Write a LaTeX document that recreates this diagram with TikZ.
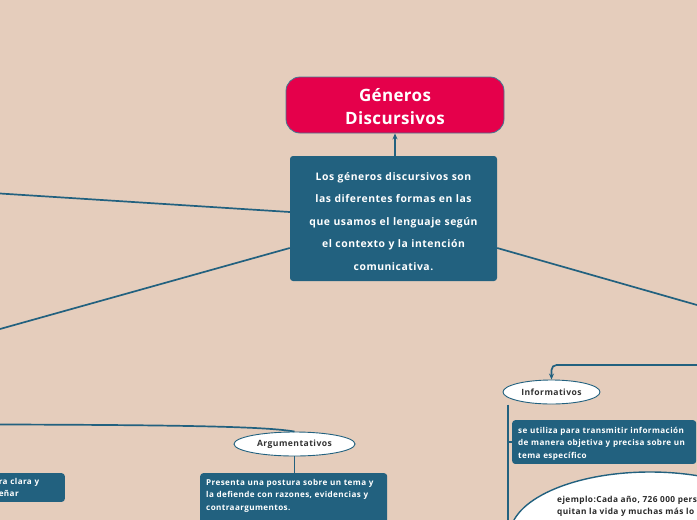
\documentclass[tikz,border=0pt]{standalone}
\usepackage{fontspec}
\setmainfont{Open Sans}
\newfontfamily\spacedfont[LetterSpace=5]{Open Sans}
\newfontfamily\titlefont[LetterSpace=2]{Open Sans}
\usetikzlibrary{arrows.meta,positioning,calc,shapes.geometric}

\definecolor{sand}{HTML}{E5CDBC}
\definecolor{deepblue}{HTML}{22617F}
\definecolor{crimson}{HTML}{E5004B}
\definecolor{inkgray}{HTML}{333333}

\newcommand{\lift}[1]{\rule{0pt}{#1}}

\begin{document}
\begin{tikzpicture}[x=1pt, y=-1pt,
  topic/.style={draw=deepblue!85, line width=0.8pt, fill=crimson, rounded corners=14pt, align=center, text=white, minimum width=218pt, minimum height=56pt, text height=39.5pt, text depth=0pt, font=\titlefont\fontsize{17}{23}\selectfont\bfseries},
  central/.style={fill=deepblue, rounded corners=3pt, align=center, text=white, text width=200pt, minimum width=207pt, minimum height=125pt, inner xsep=2pt, font=\spacedfont\fontsize{10.4}{22.5}\selectfont\bfseries},
  genre/.style={ellipse, draw=deepblue, line width=0.9pt, fill=white, text=inkgray, minimum height=24pt, inner sep=1pt, font=\spacedfont\fontsize{8.6}{10}\selectfont\bfseries},
  leaf/.style={fill=deepblue, rounded corners=3pt, align=left, text=white, inner xsep=6pt, inner ysep=5pt, font=\spacedfont\fontsize{8.1}{12.4}\selectfont\bfseries},
  bubble/.style={ellipse, draw=deepblue, line width=1.4pt, fill=white, minimum width=280pt, minimum height=126pt},
  bubbletext/.style={align=left, text=inkgray!80!black, inner sep=0pt, font=\spacedfont\fontsize{8.3}{12.6}\selectfont\bfseries},
  link/.style={draw=deepblue, line width=1.7pt},
  tip/.style={-{Stealth[length=6pt, width=5pt]}}
]
\useasboundingbox (0,0) rectangle (697,520);
\clip (0,0) rectangle (697,520);
\fill[sand] (0,0) rectangle (697,520);

% main nodes
\node[topic] (title) at (395,105) {Géneros\\Discursivos};
\node[central] (main) at (393.5,218.5) {\lift{14pt}Los géneros discursivos son\\las diferentes formas en las\\que usamos el lenguaje según\\el contexto y la intención\\comunicativa.};

% branch ends leaving the frame
\coordinate (farwest1) at (0,193.5);
\coordinate (farwest2) at (0,329);
\coordinate (fareast) at (697,305);
\coordinate (infohook) at (697,365);
\coordinate (arguhook) at (0,424.5);

\draw[link, line width=1.4pt, tip] (title.south |- main.north) -- (title.south);
\draw[link] ($(main.west)+(0,-6.5)$) -- (farwest1);
\draw[link] ($(main.west)+(0,29.5)$) -- (farwest2);
\draw[link] ($(main.east)+(0,29.5)$) -- (fareast);

% Argumentativos
\node[genre, minimum width=121pt] (argu) at (294.5,444) {Argumentativos};
\node[leaf, anchor=north west, text width=175pt, inner ysep=6pt] (arguleaf) at (200,473) {Presenta una postura sobre un tema y\\la defiende con razones, evidencias y\\contraargumentos.\rule[-24pt]{0pt}{0pt}};
\node[leaf, anchor=north east, text width=60pt] (leftleaf) at (65,473) {ra clara y\\eñar};
\draw[link] (arguhook) .. controls (200,425) and (268,427) .. (argu.north);
\draw[link] (argu.south) -- (arguleaf.north -| argu.south);

% Informativos
\node[genre, minimum width=97pt] (info) at (551.5,392) {Informativos};
\draw[link, tip, rounded corners=5pt] (infohook) -| (info.north);
\node[leaf, anchor=north west, text width=172pt, inner ysep=4pt] (infoleaf) at (512,420) {\lift{9pt}se utiliza para transmitir información\\de manera objetiva y precisa sobre un\\tema específico};
\coordinate (stem) at (508,404.5);
\coordinate (stemfoot) at (508,530);
\draw[link] (stem) -- (stemfoot);
\draw[link] (stem |- infoleaf.west) -- (infoleaf.west);
\node[bubble] (example) at (650,535) {};
\node[bubbletext, anchor=north west] (exampletext) at (557,495.5) {ejemplo:Cada año, 726 000 personas se\\quitan la vida y muchas más lo\\intentan. Cada};

\end{tikzpicture}
\end{document}
